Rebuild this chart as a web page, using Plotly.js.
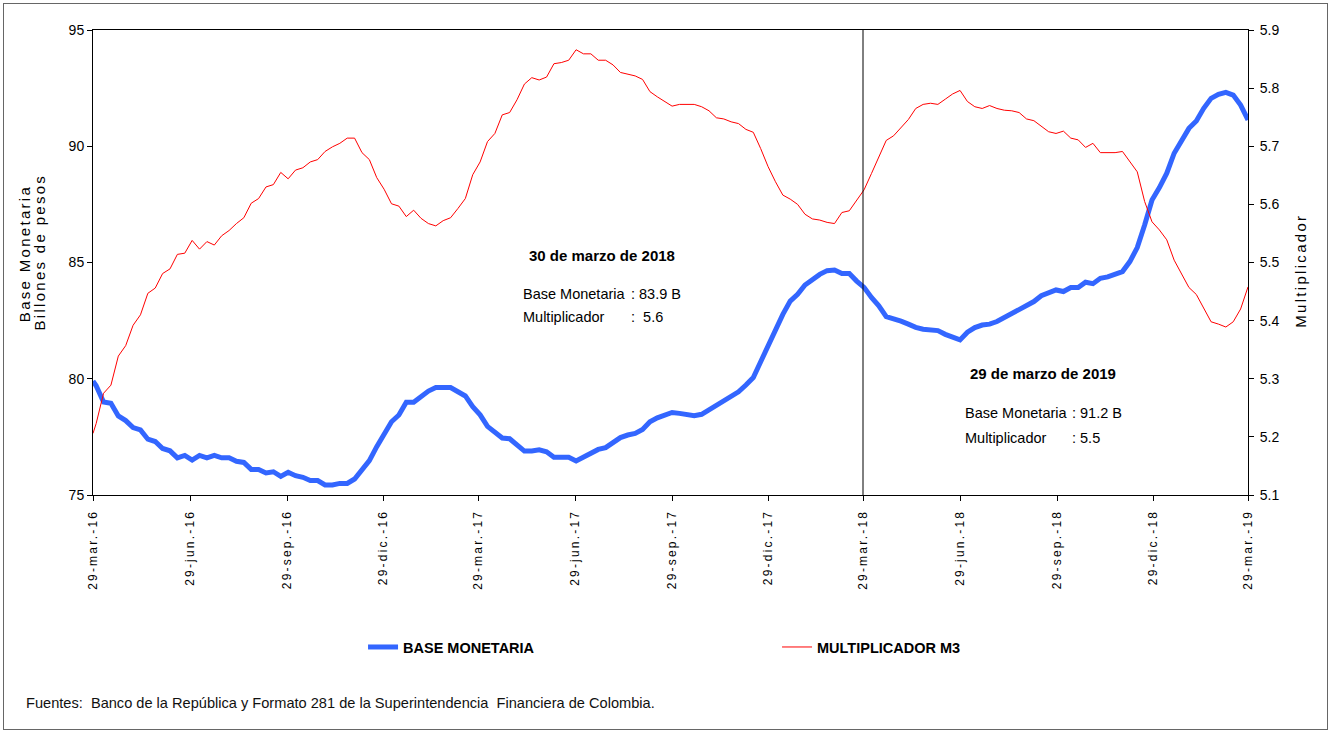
<!DOCTYPE html>
<html>
<head>
<meta charset="utf-8">
<script src="https://cdn.plot.ly/plotly-3.0.1.min.js"></script>
<style>
  html, body { margin: 0; padding: 0; background: #ffffff; }
  #wrap { position: relative; width: 1329px; height: 732px; }
  #chart { position: absolute; left: 0; top: 0; width: 1329px; height: 732px; }
  #frame { position: absolute; left: 3px; top: 3px; width: 1325px; height: 727px;
           border: 1px solid #666; pointer-events: none; box-sizing: border-box; }
  #chart .xtick text { letter-spacing: 2.2px; }
  #chart g.annotation[data-index="11"] text,
  #chart g.annotation[data-index="12"] text,
  #chart g.annotation[data-index="13"] text { letter-spacing: 2.3px; }
</style>
</head>
<body>
<div id="wrap">
  <div id="chart"></div>
  <div id="frame"></div>
</div>
<script>
// ---------------- DATA ----------------
// first observation, then weekly (Friday) observations
const startDate = '2016-03-29';
const firstWeek = '2016-04-01';
const weekCount = 157;

// Base Monetaria (billones de pesos), left axis
const baseMonetaria = [
  79.9,
  79.7, 79.0, 78.95, 78.4, 78.2, 77.9, 77.8, 77.4, 77.3, 77.0,
  76.9, 76.6, 76.7, 76.5, 76.7, 76.6, 76.7, 76.6, 76.6, 76.45,
  76.4, 76.1, 76.1, 75.95, 76.0, 75.8,
  75.98, 75.83, 75.76, 75.62, 75.62, 75.43, 75.43, 75.5, 75.5, 75.69,
  76.1, 76.48, 77.08, 77.65, 78.15, 78.44, 78.99, 78.99, 79.26, 79.47,
  79.62, 79.62, 79.62, 79.44, 79.26, 78.8,
  78.45, 77.95, 77.7, 77.45, 77.42, 77.18, 76.89, 76.89, 76.94, 76.86,
  76.62, 76.62, 76.62, 76.46, 76.62, 76.75, 76.96, 77.04, 77.27, 77.47,
  77.58, 77.65, 77.82, 78.15, 78.32, 78.44, 78.55,
  78.51, 78.47, 78.41, 78.47, 78.66, 78.83, 79.01, 79.23, 79.44, 79.73,
  80.05, 80.73, 81.45, 82.14, 82.77, 83.34, 83.63, 84.03, 84.28, 84.49,
  84.65, 84.68, 84.53, 84.53, 84.20, 83.93,
  83.5, 83.14, 82.67, 82.60, 82.48, 82.35, 82.21, 82.13, 82.10, 82.07,
  81.91, 81.78, 81.67, 82.00, 82.20, 82.31, 82.35, 82.46, 82.63, 82.78,
  83.0, 83.17, 83.32, 83.57, 83.70, 83.82, 83.75,
  83.92, 83.92, 84.15, 84.09, 84.32, 84.38, 84.49, 84.61, 85.04, 85.64,
  86.61, 87.69, 88.22, 88.84, 89.70, 90.27, 90.77, 91.09, 91.63, 92.06,
  92.23, 92.32, 92.20, 91.77, 91.13
];

// Multiplicador M3, right axis
const multiplicadorM3 = [
  5.206,
  5.223, 5.275, 5.289, 5.339, 5.357, 5.392, 5.410, 5.447, 5.456, 5.481,
  5.489, 5.514, 5.516, 5.538, 5.523, 5.536, 5.530, 5.546, 5.555, 5.567,
  5.577, 5.602, 5.610, 5.630, 5.634, 5.655,
  5.644, 5.659, 5.663, 5.673, 5.677, 5.691, 5.699, 5.705, 5.714, 5.714,
  5.689, 5.677, 5.646, 5.626, 5.601, 5.597, 5.579, 5.590, 5.576, 5.567,
  5.563, 5.572, 5.577, 5.593, 5.610, 5.651,
  5.673, 5.708, 5.722, 5.754, 5.758, 5.780, 5.807, 5.818, 5.814, 5.819,
  5.842, 5.844, 5.848, 5.866, 5.859, 5.859, 5.848, 5.848, 5.840, 5.827,
  5.824, 5.821, 5.815, 5.794, 5.785, 5.777, 5.769,
  5.772, 5.772, 5.772, 5.768, 5.761, 5.749, 5.747, 5.742, 5.739, 5.729,
  5.724, 5.696, 5.665, 5.639, 5.616, 5.609, 5.600, 5.583, 5.575, 5.573,
  5.569, 5.567, 5.586, 5.589, 5.606, 5.625,
  5.653, 5.682, 5.710, 5.718, 5.732, 5.746, 5.765, 5.772, 5.774, 5.772,
  5.781, 5.790, 5.796, 5.777, 5.768, 5.765, 5.770, 5.765, 5.762, 5.761,
  5.758, 5.747, 5.744, 5.734, 5.725, 5.722, 5.726,
  5.714, 5.711, 5.698, 5.705, 5.689, 5.689, 5.689, 5.691, 5.673, 5.656,
  5.605, 5.570, 5.556, 5.539, 5.504, 5.480, 5.457, 5.445, 5.422, 5.398,
  5.394, 5.389, 5.398, 5.420, 5.458
];

const tickDates = ['2016-03-29','2016-06-29','2016-09-29','2016-12-29','2017-03-29','2017-06-29',
  '2017-09-29','2017-12-29','2018-03-29','2018-06-29','2018-09-29','2018-12-29','2019-03-29'];
const tickLabels = ['29-mar.-16','29-jun.-16','29-sep.-16','29-dic.-16','29-mar.-17','29-jun.-17',
  '29-sep.-17','29-dic.-17','29-mar.-18','29-jun.-18','29-sep.-18','29-dic.-18','29-mar.-19'];

const seriesNames = ['BASE MONETARIA', 'MULTIPLICADOR M3'];
const leftTitle = ['Base Monetaria', 'Billones de pesos'];
const rightTitle = 'Multiplicador';
const markerDate = '2018-03-29';
const note1 = { title: '30 de marzo de 2018', base: ': 83.9 B', mult: ':  5.6' };
const note2 = { title: '29 de marzo de 2019', base: ': 91.2 B', mult: ': 5.5' };
const sourceText = 'Fuentes:  Banco de la República y Formato 281 de la Superintendencia  Financiera de Colombia.';

// ---------------- BUILD ----------------
function addDays(iso, n) {
  const d = new Date(iso + 'T00:00:00Z');
  d.setUTCDate(d.getUTCDate() + n);
  return d.toISOString().slice(0, 10);
}
const dates = [startDate];
for (let j = 0; j < weekCount; j++) dates.push(addDays(firstWeek, 7 * j));

const FONT = '"Liberation Sans", Arial, sans-serif';

const traces = [
  { x: dates, y: baseMonetaria, name: seriesNames[0], type: 'scatter', mode: 'lines',
    line: { color: '#3366ff', width: 5 }, yaxis: 'y', hoverinfo: 'x+y' },
  { x: dates, y: multiplicadorM3, name: seriesNames[1], type: 'scatter', mode: 'lines',
    line: { color: '#ff0000', width: 1 }, yaxis: 'y2', hoverinfo: 'x+y' }
];

const annFont = { family: FONT, size: 14.5, color: '#000' };
const annBold = { family: FONT, size: 15, color: '#000', weight: 'bold' };
const titleFont = { family: FONT, size: 15, color: '#000' };

const layout = {
  width: 1329, height: 732,
  margin: { l: 93, r: 81, t: 30, b: 237 },
  paper_bgcolor: '#ffffff', plot_bgcolor: '#ffffff',
  showlegend: true,
  legend: {
    orientation: 'h', x: 0.2338, xanchor: 'left', y: -0.327, yanchor: 'middle',
    font: { family: FONT, size: 14.5, color: '#000', weight: 'bold' },
    entrywidth: 369, entrywidthmode: 'pixels', bgcolor: 'rgba(0,0,0,0)'
  },
  xaxis: {
    type: 'date', range: [tickDates[0], tickDates[tickDates.length - 1]],
    tickmode: 'array', tickvals: tickDates, ticktext: tickLabels, tickangle: -90,
    tickfont: { family: FONT, size: 12, color: '#000' },
    ticks: 'outside', ticklen: 5, tickcolor: '#000', ticklabelstandoff: 4,
    showline: true, linecolor: '#000', linewidth: 1, mirror: true,
    showgrid: false, zeroline: false, fixedrange: true
  },
  yaxis: {
    range: [75, 95], tickmode: 'linear', tick0: 75, dtick: 5,
    tickfont: { family: FONT, size: 14, color: '#000' },
    ticks: 'outside', ticklen: 5, tickcolor: '#000',
    showline: true, linecolor: '#000', linewidth: 1,
    showgrid: false, zeroline: false, fixedrange: true
  },
  yaxis2: {
    overlaying: 'y', side: 'right', range: [5.1, 5.9], tickmode: 'linear', tick0: 5.1, dtick: 0.1,
    tickformat: '.1f',
    tickfont: { family: FONT, size: 14, color: '#000' },
    ticks: 'outside', ticklen: 5, tickcolor: '#000', ticklabelstandoff: 3,
    showline: true, linecolor: '#000', linewidth: 1,
    showgrid: false, zeroline: false, fixedrange: true
  },
  shapes: [
    { type: 'line', xref: 'x', yref: 'paper', x0: markerDate, x1: markerDate, y0: 0, y1: 1,
      line: { color: '#000', width: 1 } }
  ],
  annotations: [
    // 0-4: first note
    { xref: 'paper', yref: 'paper', x: 0.4407, y: 0.516, xanchor: 'center', yanchor: 'middle',
      text: note1.title, showarrow: false, font: annBold },
    { xref: 'paper', yref: 'paper', x: 0.3706, y: 0.432, xanchor: 'left', yanchor: 'middle',
      text: 'Base Monetaria', showarrow: false, font: annFont },
    { xref: 'paper', yref: 'paper', x: 0.4641, y: 0.432, xanchor: 'left', yanchor: 'middle',
      text: note1.base, showarrow: false, font: annFont },
    { xref: 'paper', yref: 'paper', x: 0.3706, y: 0.383, xanchor: 'left', yanchor: 'middle',
      text: 'Multiplicador', showarrow: false, font: annFont },
    { xref: 'paper', yref: 'paper', x: 0.4641, y: 0.383, xanchor: 'left', yanchor: 'middle',
      text: note1.mult, showarrow: false, font: annFont },
    // 5-9: second note
    { xref: 'paper', yref: 'paper', x: 0.8225, y: 0.262, xanchor: 'center', yanchor: 'middle',
      text: note2.title, showarrow: false, font: annBold },
    { xref: 'paper', yref: 'paper', x: 0.7532, y: 0.176, xanchor: 'left', yanchor: 'middle',
      text: 'Base Monetaria', showarrow: false, font: annFont },
    { xref: 'paper', yref: 'paper', x: 0.8459, y: 0.176, xanchor: 'left', yanchor: 'middle',
      text: note2.base, showarrow: false, font: annFont },
    { xref: 'paper', yref: 'paper', x: 0.7532, y: 0.123, xanchor: 'left', yanchor: 'middle',
      text: 'Multiplicador', showarrow: false, font: annFont },
    { xref: 'paper', yref: 'paper', x: 0.8459, y: 0.123, xanchor: 'left', yanchor: 'middle',
      text: note2.mult, showarrow: false, font: annFont },
    // 10: source
    { xref: 'paper', yref: 'paper', x: -0.0597, y: -0.4473, xanchor: 'left', yanchor: 'middle',
      text: sourceText, showarrow: false, font: { family: FONT, size: 14.6, color: '#111' } },
    // 11-13: axis titles
    { xref: 'paper', yref: 'paper', x: -0.0597, y: 0.5204, xanchor: 'center', yanchor: 'middle',
      text: leftTitle[0], textangle: -90, showarrow: false, font: titleFont },
    { xref: 'paper', yref: 'paper', x: -0.0459, y: 0.5226, xanchor: 'center', yanchor: 'middle',
      text: leftTitle[1], textangle: -90, showarrow: false, font: titleFont },
    { xref: 'paper', yref: 'paper', x: 1.0459, y: 0.4822, xanchor: 'center', yanchor: 'middle',
      text: rightTitle, textangle: -90, showarrow: false, font: titleFont }
  ]
};

Plotly.newPlot('chart', traces, layout, { staticPlot: true, displayModeBar: false });
</script>
</body>
</html>
